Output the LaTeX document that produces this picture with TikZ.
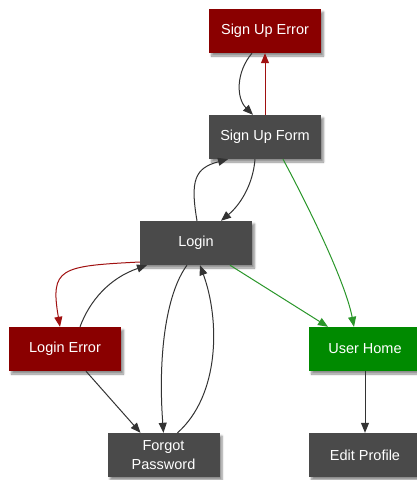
\documentclass[tikz,border=0pt]{standalone}
\usepackage{fontspec}
\setmainfont{Liberation Sans}
\usetikzlibrary{arrows.meta,shadows.blur}

\definecolor{boxgray}{HTML}{4A4A4A}
\definecolor{boxred}{HTML}{8A0000}
\definecolor{boxgreen}{HTML}{008A00}
\definecolor{linegray}{HTML}{333333}
\definecolor{linered}{HTML}{A01010}
\definecolor{linegreen}{HTML}{2A962A}

\tikzset{
  screen/.style={draw=none, minimum width=112pt, minimum height=44pt,
    inner sep=2pt, align=center, text=white, font=\fontsize{14.5}{19}\selectfont,
    blur shadow={shadow xshift=2.5pt, shadow yshift=-3pt, shadow blur steps=6,
      shadow opacity=45}},
  graybox/.style={screen, fill=boxgray},
  redbox/.style={screen, fill=boxred},
  greenbox/.style={screen, fill=boxgreen},
  flow/.style={line width=1pt, draw=linegray,
    -{Triangle[length=10pt,width=8pt]}},
  failflow/.style={flow, draw=linered, -{Triangle[length=10pt,width=8pt,fill=linered]}},
  okflow/.style={flow, draw=linegreen, -{Triangle[length=10pt,width=8pt,fill=linegreen]}},
}

\begin{document}
\begin{tikzpicture}[x=1pt, y=-1pt]
  \useasboundingbox (0,0) rectangle (417,480);

  % screens
  \node[redbox]   (sue)   at (265,31)    {Sign Up Error};
  \node[graybox]  (suf)   at (265,137)   {Sign Up Form};
  \node[graybox]  (login) at (196,243)   {Login};
  \node[redbox]   (le)    at (65,349)    {Login Error};
  \node[greenbox] (uh)    at (365,349)   {User Home};
  \node[graybox]  (fp)    at (163.5,455) {Forgot\\Password};
  \node[graybox]  (ep)    at (365,455)   {Edit Profile};

  % sign up loop
  \draw[flow] ([xshift=-13pt]sue.south) .. controls (236,72) and (236,98) .. ([xshift=-12pt]suf.north);
  \draw[failflow] (suf.north) -- (sue.south);

  % login <-> sign up form
  \draw[flow] ([xshift=1pt]login.north) .. controls (190,180) and (195,168) .. ([xshift=-37pt]suf.south);
  \draw[flow] ([xshift=-10pt]suf.south) .. controls (253,185) and (240,205) .. ([xshift=25pt]login.north);

  % successful paths to user home
  \draw[okflow] ([xshift=18pt]suf.south) .. controls (305,200) and (345,280) .. ([xshift=-11pt]uh.north);
  \draw[okflow] ([xshift=34pt]login.south) -- ([xshift=-37pt]uh.north);

  % login error loop
  \draw[failflow] ([yshift=-19pt]login.west) .. controls (60,266) and (50,268) .. ([xshift=-5pt]le.north);
  \draw[flow] ([xshift=15pt]le.north) .. controls (90,300) and (110,278) .. ([xshift=-49pt]login.south);

  % forgot password
  \draw[flow] ([xshift=21pt]le.south) -- ([xshift=-23pt]fp.north);
  \draw[flow] ([xshift=-9pt]login.south) .. controls (165,295) and (158,360) .. (fp.north);
  \draw[flow] ([xshift=14pt]fp.north) .. controls (220,395) and (220,320) .. ([xshift=4pt]login.south);

  % profile
  \draw[flow] (uh.south) -- (ep.north);
\end{tikzpicture}
\end{document}
